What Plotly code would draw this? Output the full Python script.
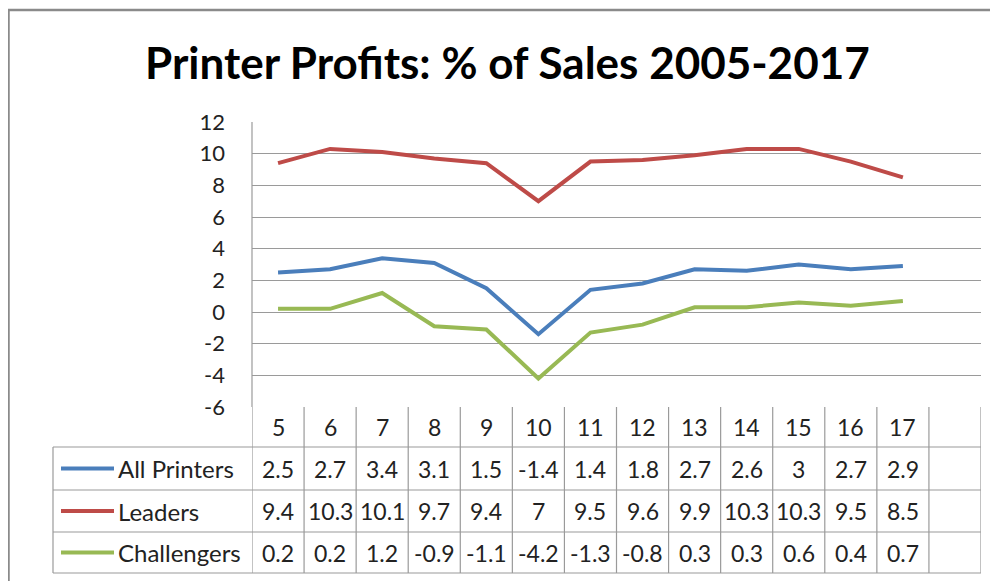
import plotly.graph_objects as go

# ---- data ----
years = ["5", "6", "7", "8", "9", "10", "11", "12", "13", "14", "15", "16", "17"]
series_names = ["All Printers", "Leaders", "Challengers"]
all_printers = [2.5, 2.7, 3.4, 3.1, 1.5, -1.4, 1.4, 1.8, 2.7, 2.6, 3, 2.7, 2.9]
leaders = [9.4, 10.3, 10.1, 9.7, 9.4, 7, 9.5, 9.6, 9.9, 10.3, 10.3, 9.5, 8.5]
challengers = [0.2, 0.2, 1.2, -0.9, -1.1, -4.2, -1.3, -0.8, 0.3, 0.3, 0.6, 0.4, 0.7]
y_ticks = [-6, -4, -2, 0, 2, 4, 6, 8, 10, 12]
title_text = "Printer Profits: % of Sales 2005-2017"

series_values = [all_printers, leaders, challengers]
colors = ["#4A7EBB", "#BE4B48", "#98B954"]

W, H = 998, 581
OFF = 8  # page body margin in the browser
FONT = "Lato"
GRID = "#9a9a9a"
TXT = "#222222"


def px(x):
    return (x - OFF) / W


def py(y):
    return 1 - (y - OFF) / H


n_cols = len(years) + 1  # one empty column at the end
x_idx = list(range(len(years)))

fig = go.Figure()
for name, vals, col in zip(series_names, series_values, colors):
    fig.add_trace(go.Scatter(
        x=x_idx, y=vals, mode="lines", name=name,
        line=dict(color=col, width=4), showlegend=False,
        hoverinfo="y",
    ))

plot_left, plot_right = 252, 981
plot_top, plot_bottom = 122, 407
row_edges = [407, 447, 490, 532, 573]
label_left = 53

shapes = []
# outer chart border
shapes.append(dict(type="rect", xref="paper", yref="paper",
                   x0=px(8.5), x1=px(1020), y0=py(620), y1=py(10),
                   line=dict(color="#8a8a8a", width=2.5)))
# left axis line of plot area
shapes.append(dict(type="line", xref="paper", yref="paper",
                   x0=px(plot_left), x1=px(plot_left), y0=py(plot_top), y1=py(plot_bottom),
                   line=dict(color=GRID, width=1.2)))
# table vertical lines
for k in range(n_cols + 1):
    xv = k - 0.5
    shapes.append(dict(type="line", xref="x", yref="paper",
                       x0=xv, x1=xv, y0=py(row_edges[0]), y1=py(row_edges[-1]),
                       line=dict(color=GRID, width=1.2)))
shapes.append(dict(type="line", xref="paper", yref="paper",
                   x0=px(label_left), x1=px(label_left), y0=py(row_edges[1]), y1=py(row_edges[-1]),
                   line=dict(color=GRID, width=1.2)))
# table horizontal lines
for r in row_edges[1:]:
    shapes.append(dict(type="line", xref="paper", yref="paper",
                       x0=px(label_left), x1=px(plot_right), y0=py(r), y1=py(r),
                       line=dict(color=GRID, width=1.2)))

annotations = []
# title
annotations.append(dict(text=title_text, x=px(508), y=py(62), xref="paper", yref="paper",
                        showarrow=False, xanchor="center", yanchor="middle",
                        font=dict(family=FONT, size=44, color="#000000", weight="bold")))
# header row: years
hdr_y = py((row_edges[0] + row_edges[1]) / 2)
for i, yr in enumerate(years):
    annotations.append(dict(text=yr, x=i, y=hdr_y, xref="x", yref="paper",
                            showarrow=False, xanchor="center", yanchor="middle",
                            font=dict(family=FONT, size=23, color=TXT)))
# series rows
for r, (name, vals, col) in enumerate(zip(series_names, series_values, colors)):
    yc_px = (row_edges[r + 1] + row_edges[r + 2]) / 2
    yc = py(yc_px)
    shapes.append(dict(type="line", xref="paper", yref="paper",
                       x0=px(61), x1=px(114), y0=yc, y1=yc,
                       line=dict(color=col, width=4)))
    annotations.append(dict(text=name, x=px(116), y=yc, xref="paper", yref="paper",
                            showarrow=False, xanchor="left", yanchor="middle",
                            font=dict(family=FONT, size=24, color=TXT)))
    for i, v in enumerate(vals):
        annotations.append(dict(text=f"{v:g}", x=i, y=yc, xref="x", yref="paper",
                                showarrow=False, xanchor="center", yanchor="middle",
                                font=dict(family=FONT, size=23, color=TXT)))

fig.update_layout(
    width=W, height=H, autosize=False,
    margin=dict(l=0, r=0, t=0, b=0, pad=0, autoexpand=False),
    paper_bgcolor="white", plot_bgcolor="white",
    shapes=shapes, annotations=annotations,
    xaxis=dict(domain=[px(plot_left), px(plot_right)], range=[-0.5, n_cols - 0.5],
               showgrid=False, zeroline=False, showticklabels=False, showline=False,
               automargin=False, fixedrange=True),
    yaxis=dict(domain=[py(plot_bottom), py(plot_top)], range=[-6, 12],
               tickvals=y_ticks, ticktext=[str(t) for t in y_ticks],
               showgrid=True, gridcolor=GRID, gridwidth=1.2,
               zeroline=False, showline=False, ticks="",
               ticklabelstandoff=26, automargin=False,
               tickfont=dict(family=FONT, size=22, color=TXT),
               fixedrange=True),
)

fig.write_html("out.html")
